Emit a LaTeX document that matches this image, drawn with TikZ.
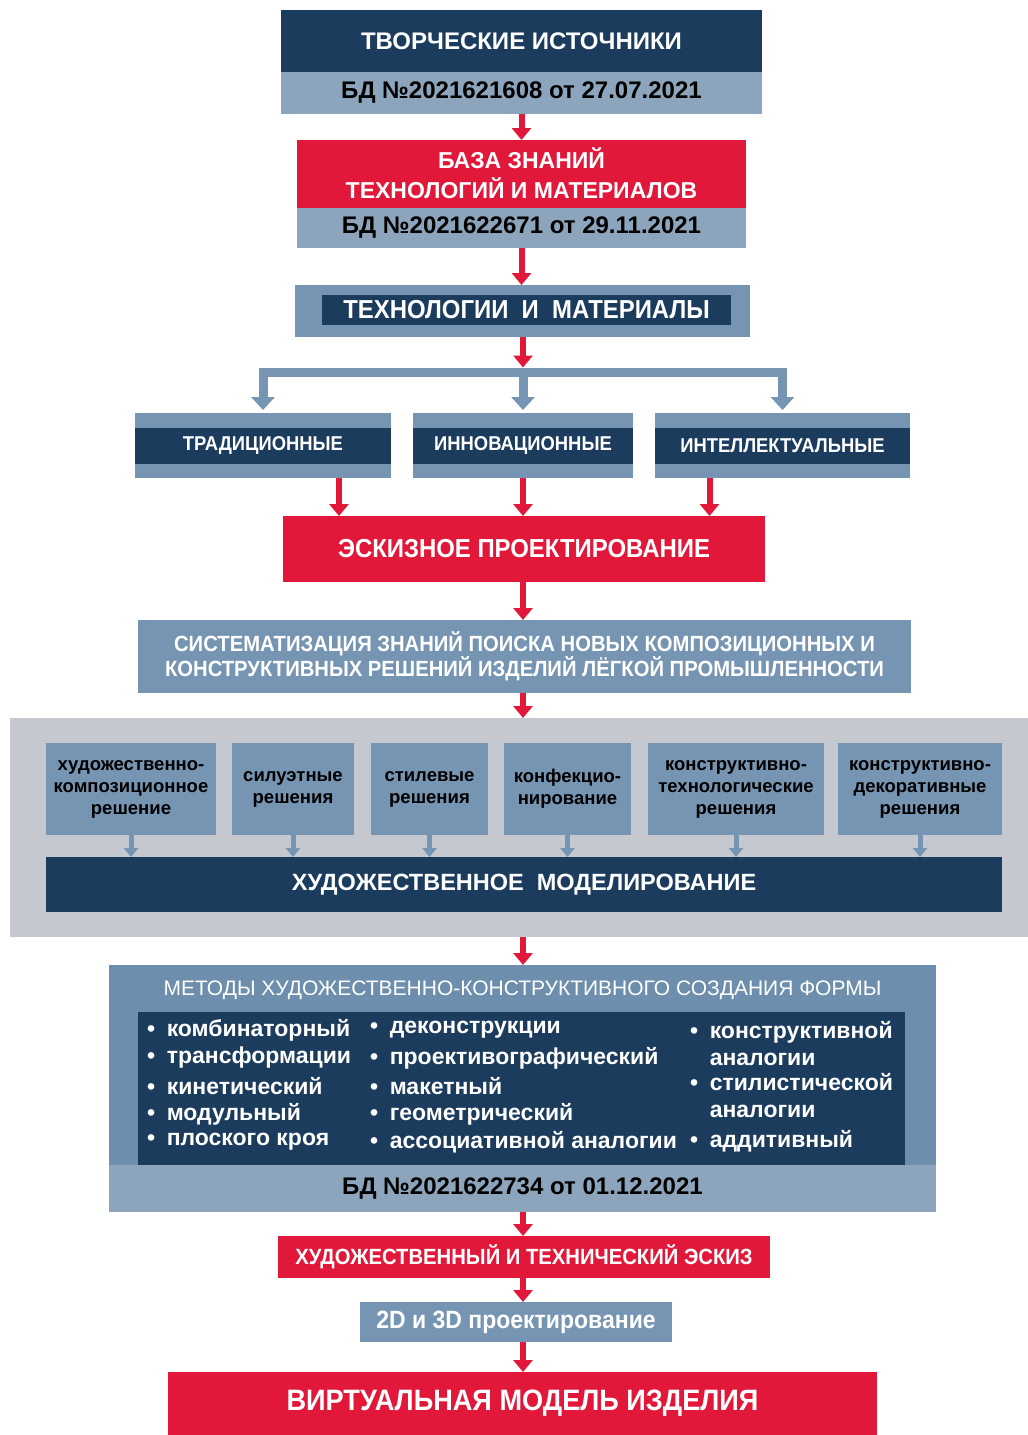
\documentclass[tikz,border=0pt]{standalone}
\usepackage{fontspec}
\setmainfont{Liberation Sans}
\newfontfamily\narrowsans{Liberation Sans}[FakeStretch=0.92]
\usetikzlibrary{positioning, arrows.meta}

\definecolor{navy}{HTML}{1C3C5D}
\definecolor{steel}{HTML}{7695B2}
\definecolor{deepsteel}{HTML}{6D8EAC}
\definecolor{band}{HTML}{8DA5BC}
\definecolor{panelgray}{HTML}{C5C8CE}
\definecolor{brandred}{HTML}{E2183A}

\tikzset{
  box/.style={rectangle, inner sep=0pt, outer sep=0pt, align=center},
  navybox/.style={box, fill=navy, text=white},
  redbox/.style={box, fill=brandred, text=white},
  steelbox/.style={box, fill=steel, text=white},
  bandbox/.style={box, fill=band, text=black},
  solbox/.style={box, fill=steel, text=black, minimum height=92pt,
    font=\bfseries\fontsize{18.5}{22}\selectfont},
  item/.style={inner sep=0pt, anchor=west, align=left, text=white,
    font=\bfseries\fontsize{23}{27}\selectfont},
  redarrow/.style={draw=brandred, line width=6pt, -{Triangle[length=12pt,width=19pt]}},
  bluearrow/.style={draw=steel, line width=9pt, -{Triangle[length=13pt,width=23pt]}},
  smallarrow/.style={draw=steel, line width=5pt, -{Triangle[length=9pt,width=14pt]}},
}

\begin{document}
\begin{tikzpicture}[x=1pt, y=-1pt]
\useasboundingbox (0,0) rectangle (1028,1435);

% Sources and knowledge base
\node[navybox, minimum width=481pt, minimum height=62pt, font=\bfseries\fontsize{24}{28}\selectfont] (src) at (521.5,41) {\raisebox{-2pt}{ТВОРЧЕСКИЕ ИСТОЧНИКИ}};
\node[bandbox, minimum width=481pt, minimum height=42pt, below=0pt of src, font=\bfseries\fontsize{24}{28}\selectfont] (srcdb) {БД №2021621608 от 27.07.2021};

\node[redbox, minimum width=449pt, minimum height=68pt, font=\bfseries\fontsize{23}{30}\selectfont] (base) at (521.5,174) {\raisebox{2pt}{БАЗА ЗНАНИЙ}\\\raisebox{2pt}{ТЕХНОЛОГИЙ И МАТЕРИАЛОВ}};
\node[bandbox, minimum width=449pt, minimum height=40pt, below=0pt of base, font=\bfseries\fontsize{24}{28}\selectfont] (basedb) {БД №2021622671 от 29.11.2021};

\node[steelbox, minimum width=455pt, minimum height=52pt] (techout) at (522.5,311) {};
\node[navybox, minimum width=409pt, minimum height=30pt, font=\narrowsans\bfseries\fontsize{26}{30}\selectfont] (tech) at (526.5,310) {ТЕХНОЛОГИИ\ \ И\ \ МАТЕРИАЛЫ};

% Three kinds of technologies
\node[steelbox, minimum width=256pt, minimum height=65pt] (trad) at (263,445.5) {};
\node[navybox, minimum width=256pt, minimum height=36pt, font=\narrowsans\bfseries\fontsize{20}{24}\selectfont] (tradlbl) at (trad) {ТРАДИЦИОННЫЕ};
\node[steelbox, minimum width=220pt, minimum height=65pt] (innov) at (523,445.5) {};
\node[navybox, minimum width=220pt, minimum height=36pt, font=\narrowsans\bfseries\fontsize{20}{24}\selectfont] (innovlbl) at (innov) {ИННОВАЦИОННЫЕ};
\node[steelbox, minimum width=255pt, minimum height=65pt] (intel) at (782.5,445.5) {};
\node[navybox, minimum width=255pt, minimum height=36pt, font=\narrowsans\bfseries\fontsize{20}{24}\selectfont] (intellbl) at (intel) {ИНТЕЛЛЕКТУАЛЬНЫЕ};

\node[redbox, minimum width=482pt, minimum height=66pt, font=\narrowsans\bfseries\fontsize{26}{30}\selectfont] (sketch) at (524,549) {ЭСКИЗНОЕ ПРОЕКТИРОВАНИЕ};

\node[steelbox, minimum width=773pt, minimum height=73pt, font=\narrowsans\bfseries\fontsize{22}{25}\selectfont] (syst) at (524.5,656.5) {СИСТЕМАТИЗАЦИЯ ЗНАНИЙ ПОИСКА НОВЫХ КОМПОЗИЦИОННЫХ И\\КОНСТРУКТИВНЫХ РЕШЕНИЙ ИЗДЕЛИЙ ЛЁГКОЙ ПРОМЫШЛЕННОСТИ};

% Modelling panel
\node[box, fill=panelgray, minimum width=1018pt, minimum height=219pt] (panel) at (519,827.5) {};
\node[solbox, minimum width=170pt] (sola) at (131,789) {художественно-\\композиционное\\решение};
\node[solbox, minimum width=122pt] (solb) at (293,789) {силуэтные\\решения};
\node[solbox, minimum width=117pt] (solc) at (429.5,789) {стилевые\\решения};
\node[solbox, minimum width=127pt] (sold) at (567.5,789) {конфекцио-\\нирование};
\node[solbox, minimum width=176pt] (sole) at (736,789) {конструктивно-\\технологические\\решения};
\node[solbox, minimum width=164pt] (solf) at (920,789) {конструктивно-\\декоративные\\решения};
\node[navybox, minimum width=956pt, minimum height=55pt, font=\bfseries\fontsize{23.5}{27}\selectfont] (model) at (524,884.5) {ХУДОЖЕСТВЕННОЕ\ \ МОДЕЛИРОВАНИЕ};

% Methods
\node[box, fill=deepsteel, minimum width=827pt, minimum height=247pt] (methods) at (522.5,1088.5) {};
\node[inner sep=0pt, text=white, font=\fontsize{21}{25}\selectfont] (mtitle) at (522.5,990) {МЕТОДЫ ХУДОЖЕСТВЕННО-КОНСТРУКТИВНОГО СОЗДАНИЯ ФОРМЫ};
\node[navybox, minimum width=767pt, minimum height=153pt] (mlist) at (521.5,1088.5) {};
\node[bandbox, minimum width=827pt, minimum height=47pt, font=\bfseries\fontsize{24}{28}\selectfont] (methdb) at (522.5,1188.5) {БД №2021622734 от 01.12.2021};

\foreach \t [count=\i] in {комбинаторный, трансформации, кинетический, модульный, плоского кроя}
  \node[item] (ma\i) at (147,1002+28*\i) {•\enspace\t};
\foreach \t [count=\i] in {деконструкции, проективографический, макетный, геометрический, ассоциативной аналогии}
  \node[item] (mb\i) at (370,1002+28*\i) {•\enspace\t};
\node[item] (mc1) at (690,1043.5) {•\enspace конструктивной\\\phantom{•\enspace}аналогии};
\node[item] (mc2) at (690,1096) {•\enspace стилистической\\\phantom{•\enspace}аналогии};
\node[item] (mc3) at (690,1141) {•\enspace аддитивный};

% Final stages
\node[redbox, minimum width=492pt, minimum height=42pt, font=\narrowsans\bfseries\fontsize{22}{26}\selectfont] (esk) at (524,1257) {ХУДОЖЕСТВЕННЫЙ И ТЕХНИЧЕСКИЙ ЭСКИЗ};
\node[steelbox, minimum width=312pt, minimum height=40pt, font=\narrowsans\bfseries\fontsize{25}{29}\selectfont] (design) at (516,1322) {2D и 3D проектирование};
\node[redbox, minimum width=709pt, minimum height=63pt, font=\narrowsans\bfseries\fontsize{29.5}{33}\selectfont] (virt) at (522.5,1403.5) {ВИРТУАЛЬНАЯ МОДЕЛЬ ИЗДЕЛИЯ};

% Arrows
\coordinate (fork) at (523,372);
\draw[redarrow] (srcdb.south) -- (srcdb.south |- base.north);
\draw[redarrow] (basedb.south) -- (basedb.south |- techout.north);
\draw[redarrow] (techout.south -| fork) -- ([yshift=4.5pt]fork);
\draw[bluearrow, shorten >=3pt] (fork) -| (trad.north);
\draw[bluearrow, shorten >=3pt] (fork) -- (innov.north);
\draw[bluearrow, shorten >=3pt] (fork) -| (intel.north);
\draw[redarrow] ([xshift=76pt]trad.south) -- ([xshift=76pt]trad.south |- sketch.north);
\draw[redarrow] (innov.south) -- (innov.south |- sketch.north);
\draw[redarrow] ([xshift=-73pt]intel.south) -- ([xshift=-73pt]intel.south |- sketch.north);
\draw[redarrow] (sketch.south -| fork) -- (fork |- syst.north);
\draw[redarrow] (syst.south -| fork) -- (fork |- panel.north);
\foreach \s in {a,b,c,d,e,f}
  \draw[smallarrow] (sol\s.south) -- (sol\s.south |- model.north);
\draw[redarrow] (panel.south -| fork) -- (fork |- methods.north);
\draw[redarrow] (methdb.south -| fork) -- (fork |- esk.north);
\draw[redarrow] (esk.south -| fork) -- (fork |- design.north);
\draw[redarrow] (design.south -| fork) -- (fork |- virt.north);

\end{tikzpicture}
\end{document}
